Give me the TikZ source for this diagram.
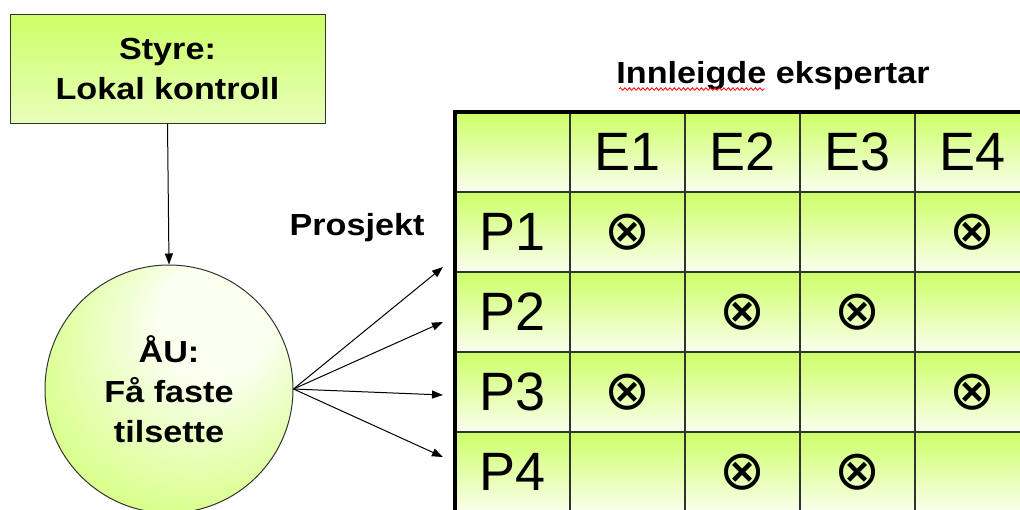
\documentclass[tikz,border=0pt]{standalone}
\usepackage{fontspec}
\setmainfont{Liberation Sans}
\newfontfamily\labelfont{Liberation Sans}[FakeStretch=1.12]
\newfontfamily\symfont{DejaVu Sans}
\usetikzlibrary{arrows.meta,decorations.pathmorphing}
\definecolor{lime}{RGB}{204,255,102}
\definecolor{limepale}{RGB}{250,255,238}
\definecolor{gridgray}{RGB}{50,50,50}
\pgfdeclareradialshading{bubble}{\pgfpoint{12bp}{18bp}}{%
  color(0bp)=(limepale); color(12bp)=(limepale);
  color(40bp)=(lime); color(50bp)=(lime)}
\tikzset{
  boldlabel/.style={font=\labelfont\bfseries\fontsize{30.5}{40}\selectfont, align=center},
  boardbox/.style={draw=black!80, line width=1pt, top color=lime, bottom color=lime!45!white,
    minimum width=315pt, minimum height=109pt, inner sep=0pt, boldlabel},
  goalcircle/.style={circle, draw=black!80, line width=1pt, shading=bubble,
    minimum size=248pt, inner sep=0pt, boldlabel},
  link/.style={line width=1pt, -{Triangle[length=11pt,width=8pt]}},
  celltext/.style={font=\fontsize{54}{60}\selectfont, inner sep=0pt},
  crossmark/.style={font=\symfont\fontsize{55}{55}\selectfont, inner sep=0pt},
  gridline/.style={draw=gridgray, line width=1.5pt},
  border/.style={draw=black, line width=3.5pt},
}
\begin{document}
\begin{tikzpicture}[x=1pt,y=-1pt]
\useasboundingbox (0,0) rectangle (1020,509);
\clip (0,0) rectangle (1020,509);

% board and working committee
\node[boardbox] (styre) at (167.5,68.5) {Styre:\\Lokal kontroll};
\node[goalcircle] (au) at (169,389) {ÅU:\\Få faste\\tilsette};
\draw[link] (styre.south) -- (au.north);

% project arrows
\node[boldlabel] (prosjekt) at (357,228) {Prosjekt};
\coordinate (t1) at (443,267);
\coordinate (t2) at (443,322);
\coordinate (t3) at (443,395);
\coordinate (t4) at (443,457);
\foreach \t in {t1,t2,t3,t4}
  \draw[link] (au.east) -- (\t);

% table title with spell-check underline
\node[boldlabel] (title) at (773,76) {Innleigde ekspertar};
\draw[red, line width=0.8pt, decorate,
  decoration={snake, amplitude=1.3pt, segment length=4.5pt}] (619,89) -- (765,89);

% table rows
\foreach \r in {112,192,272,352,432}
  \shade[top color=lime, bottom color=limepale] (455,\r) rectangle (1030,\r+80);
\foreach \r in {192,272,352,432}
  \draw[gridline] (455,\r) -- (1030,\r);
\foreach \c in {570,685,800,915}
  \draw[gridline] (\c,112) -- (\c,512);
\draw[border] (455,512) -- (455,112) -- (1030,112);

% headers
\node[celltext] (e1) at (627.5,152) {E1};
\node[celltext] (e2) at (742.5,152) {E2};
\node[celltext] (e3) at (857.5,152) {E3};
\node[celltext] (e4) at (972.5,152) {E4};
\node[celltext] (p1) at (512.5,232) {P1};
\node[celltext] (p2) at (512.5,312) {P2};
\node[celltext] (p3) at (512.5,392) {P3};
\node[celltext] (p4) at (512.5,472) {P4};

% assignments
\node[crossmark] (m11) at (627.5,232) {⊗};
\node[crossmark] (m14) at (972.5,232) {⊗};
\node[crossmark] (m22) at (742.5,312) {⊗};
\node[crossmark] (m23) at (857.5,312) {⊗};
\node[crossmark] (m31) at (627.5,392) {⊗};
\node[crossmark] (m34) at (972.5,392) {⊗};
\node[crossmark] (m42) at (742.5,472) {⊗};
\node[crossmark] (m43) at (857.5,472) {⊗};
\end{tikzpicture}
\end{document}
